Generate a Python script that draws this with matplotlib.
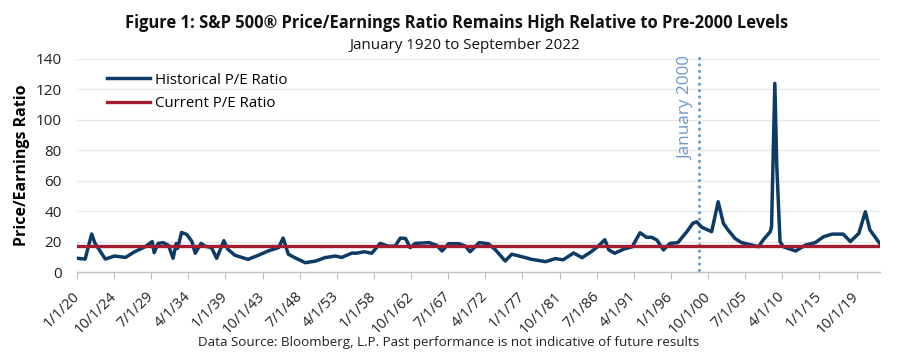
import matplotlib
matplotlib.use("Agg")
import matplotlib.pyplot as plt
import numpy as np

plt.rcParams['font.family'] = ['Open Sans', 'DejaVu Sans']

# ---- data ----
dates = ["1920-01", "1921-01", "1921-11", "1922-04", "1923-08", "1924-10", "1926-03",
         "1927-05", "1928-09", "1929-08", "1929-11", "1930-05", "1931-01", "1931-09",
         "1932-04", "1932-09", "1932-11", "1933-05", "1934-01", "1934-09", "1935-02",
         "1935-11", "1936-05", "1937-03", "1937-11", "1938-10", "1939-04", "1940-03",
         "1941-11", "1943-03", "1944-07", "1945-10", "1946-05", "1947-01", "1947-11",
         "1949-03", "1950-07", "1951-09", "1953-01", "1953-11", "1955-03", "1955-08",
         "1956-10", "1957-09", "1958-10", "1959-10", "1960-09", "1961-05", "1962-01",
         "1962-08", "1963-04", "1965-01", "1966-01", "1966-09", "1967-07", "1968-11",
         "1969-09", "1970-04", "1971-06", "1972-08", "1973-07", "1974-10", "1975-08",
         "1976-12", "1978-03", "1979-12", "1981-03", "1982-03", "1983-07", "1984-08",
         "1985-10", "1986-09", "1987-07", "1988-01", "1988-10", "1989-12", "1991-01",
         "1992-01", "1992-11", "1993-07", "1994-03", "1995-01", "1995-11", "1996-11",
         "1998-01", "1998-10", "1999-04", "1999-12", "2001-03", "2002-01", "2002-09",
         "2003-04", "2004-03", "2005-01", "2006-05", "2007-03", "2007-10", "2008-09",
         "2008-11", "2009-04", "2009-07", "2009-12", "2010-05", "2011-12", "2013-03",
         "2014-06", "2015-07", "2016-08", "2018-01", "2018-12", "2020-01", "2020-11",
         "2021-06", "2022-09"]
pe_values = [9, 8.5, 25, 19, 8.5, 10.5, 9.6,
             13.3, 16.6, 20, 12.7, 18.8, 19.3, 17.5,
             9, 18.8, 15.5, 26, 24.7, 20, 12.3,
             18.8, 17, 16, 9, 20.6, 15, 11,
             8.3, 11, 14, 16, 22.3, 11.7, 9.4,
             6.1, 7.2, 9.4, 10.5, 9.6, 12.5, 12.3,
             13.3, 12.3, 18.8, 17, 17, 22.3, 22,
             16, 18.8, 19.3, 17.5, 13.8, 18.6, 18.6,
             17, 13.3, 19.3, 18.6, 14.6, 7.2, 11.7,
             10, 8.3, 6.8, 8.8, 8, 12.5, 9.4,
             13.3, 17, 21.2, 14.6, 12.3, 15, 16.6,
             25.8, 22.8, 22.8, 21, 14.5, 18.8, 19.3,
             26.5, 32, 33, 29.4, 26.5, 46.2, 32,
             27.7, 22, 19.3, 17.7, 16.6, 21, 26.5,
             30, 124, 70, 20, 16.6, 13.8, 17.7,
             19.3, 23.2, 24.9, 24.9, 20, 25.4, 39.6,
             27.7, 18.8]
current_pe = 17.1
marker_date = "1999-08"          # where the dotted marker sits on the reference axis
marker_label = "January 2000"
first_month = "1920-01"
last_month = "2022-09"
tick_labels = ["1/1/20", "10/1/24", "7/1/29", "4/1/34", "1/1/39", "10/1/43", "7/1/48",
               "4/1/53", "1/1/58", "10/1/62", "7/1/67", "4/1/72", "1/1/77", "10/1/81",
               "7/1/86", "4/1/91", "1/1/96", "10/1/00", "7/1/05", "4/1/10", "1/1/15",
               "10/1/19"]
tick_step_months = 57
y_ticks = [0, 20, 40, 60, 80, 100, 120, 140]


def month_index(s):
    y, m = s.split("-")
    fy, fm = first_month.split("-")
    return (int(y) - int(fy)) * 12 + (int(m) - int(fm))


n_months = month_index(last_month) + 1
x = np.array([month_index(d) for d in dates]) + 0.5

navy = "#0C3C66"
red = "#A51C30"
lightblue = "#6C9BCB"

fig = plt.figure(figsize=(8.97, 3.55), dpi=100)
ax = fig.add_axes([77 / 897, 1 - 272 / 355, (880 - 77) / 897, (272 - 59) / 355])

ax.set_xlim(0, n_months)
ax.set_ylim(0, 140)
ax.set_yticks(y_ticks)
ax.grid(axis='y', color='#E6E6E6', linewidth=1)
ax.set_axisbelow(True)
for s in ['left', 'right', 'top']:
    ax.spines[s].set_visible(False)
ax.spines['bottom'].set_color('#BFBFBF')
ax.spines['bottom'].set_linewidth(1)
ax.tick_params(axis='y', length=0, labelsize=11, pad=11, labelcolor='#222222')

ticks = [i * tick_step_months for i in range(len(tick_labels))]
ax.set_xticks(ticks)
ax.set_xticklabels(tick_labels, rotation=45, ha='right', va='center', rotation_mode='anchor',
                   fontsize=10.5, color='#222222')
ax.tick_params(axis='x', length=5, color='#BFBFBF', pad=11)

hist_line, = ax.plot(x, pe_values, color=navy, linewidth=2.5, solid_joinstyle='round',
                     label="Historical P/E Ratio", zorder=3)
cur_line = ax.axhline(current_pe, color=red, linewidth=2.4, label="Current P/E Ratio", zorder=4)

mx = month_index(marker_date) + 0.5
ax.plot([mx, mx], [1, 142.5], color=lightblue, linestyle=(0, (0.01, 2.0)), linewidth=2.3,
        dash_capstyle='round', clip_on=False, zorder=2)
ax.text(mx - 7, 142, marker_label, rotation=90, ha='right', va='top', color=lightblue,
        fontsize=12.3)

leg = ax.legend(handles=[hist_line, cur_line], loc='upper left', bbox_to_anchor=(0.02, 1.0),
                frameon=False, fontsize=10.8, handlelength=2.9, handletextpad=0.3,
                labelspacing=0.55)

ax.set_ylabel("Price/Earnings Ratio", fontsize=11.5, fontweight='bold', labelpad=4)

fig.text(0.509, 0.935, "Figure 1: S&P 500\u00ae Price/Earnings Ratio Remains High Relative to Pre-2000 Levels",
         ha='center', va='center', fontsize=11.9, fontweight='bold', color='#111111')
fig.text(0.518, 0.872, "January 1920 to September 2022", ha='center', va='center',
         fontsize=10.9, color='#111111')
fig.text(0.5, 0.035, "Data Source: Bloomberg, L.P. Past performance is not indicative of future results",
         ha='center', va='center', fontsize=9.6, color='#222222')

fig.savefig("out.png", dpi=100)
